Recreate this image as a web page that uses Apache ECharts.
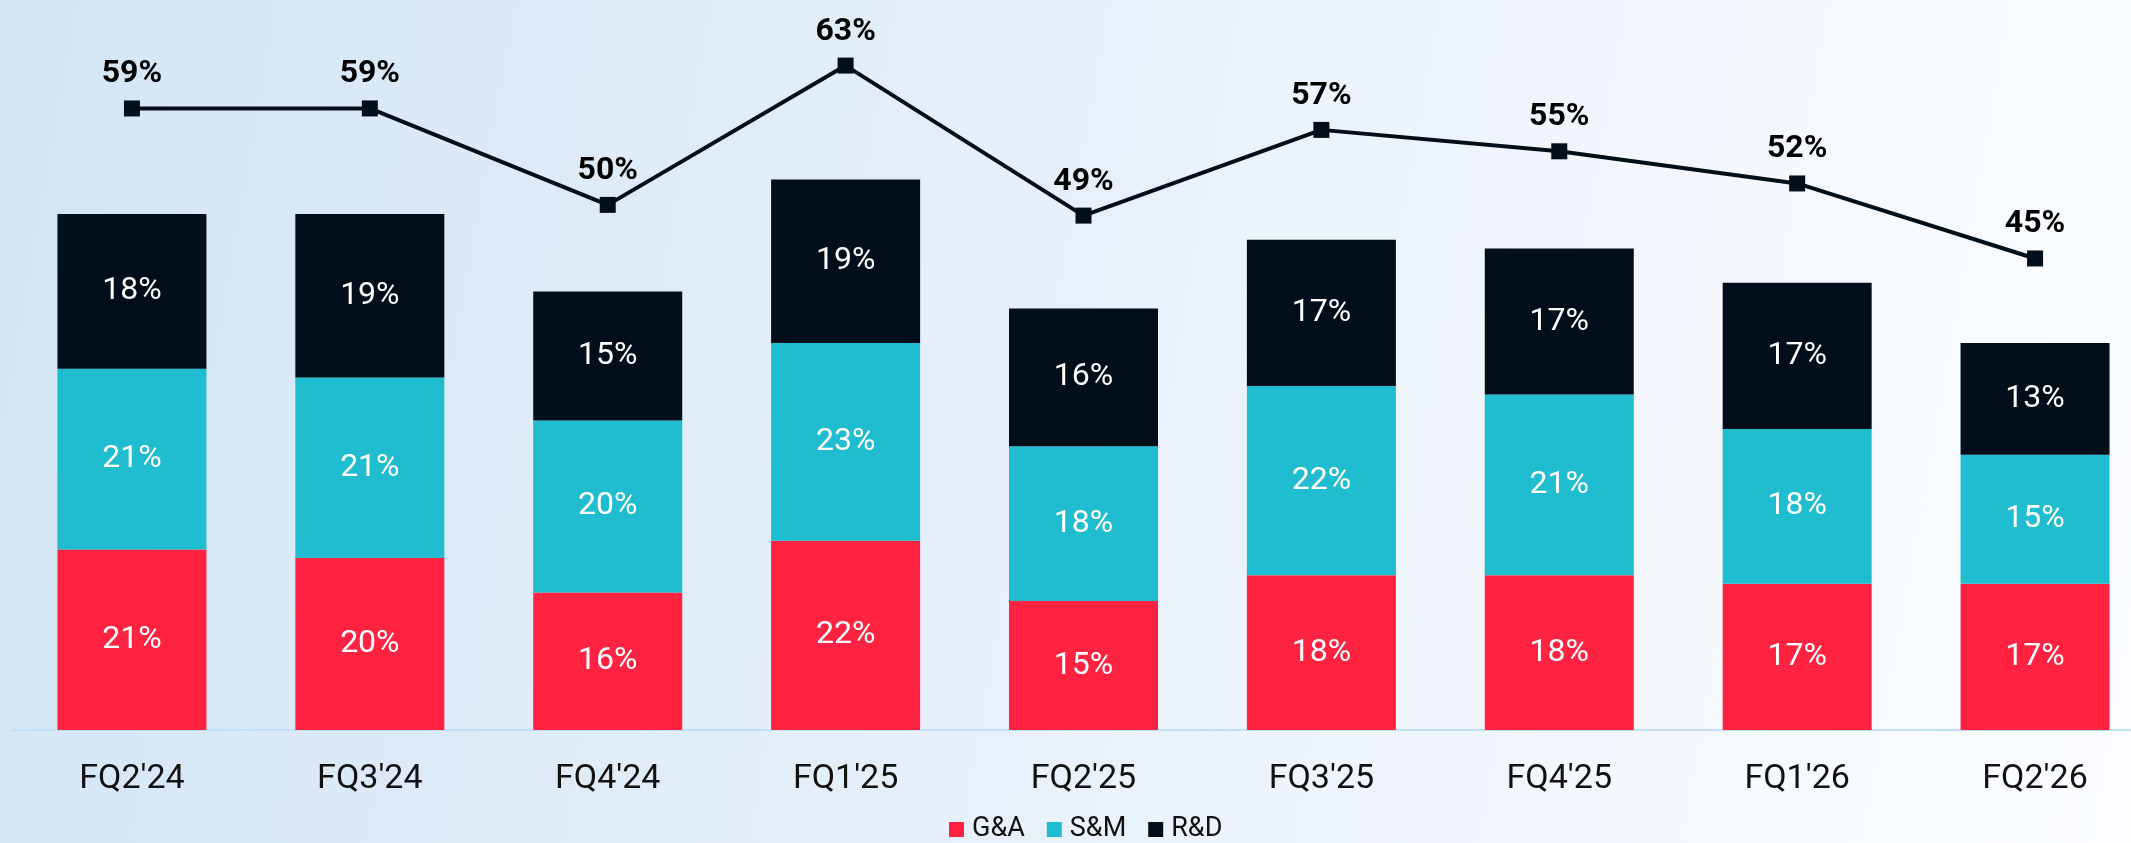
<!DOCTYPE html>
<html>
<head>
<meta charset="utf-8">
<script src="https://cdn.jsdelivr.net/npm/echarts@6/dist/echarts.min.js"></script>
<style>
  html, body { margin: 0; padding: 0; }
  #chart {
    width: 2131px; height: 843px;
    background: linear-gradient(100deg, #d3e5f5 0%, #e3eef9 40%, #f3f7fd 75%, #fbfdff 100%);
  }
</style>
</head>
<body>
<div id="chart"></div>
<script>
var quarters = ["FQ2'24", "FQ3'24", "FQ4'24", "FQ1'25", "FQ2'25", "FQ3'25", "FQ4'25", "FQ1'26", "FQ2'26"];
var gaValues = [21, 20, 16, 22, 15, 18, 18, 17, 17];
var smValues = [21, 21, 20, 23, 18, 22, 21, 18, 15];
var rdValues = [18, 19, 15, 19, 16, 17, 17, 17, 13];
var totalValues = [59, 59, 50, 63, 49, 57, 55, 52, 45];

var myChart = echarts.init(document.getElementById('chart'));

function barSeries(name, data, color) {
    return {
        name: name,
        type: 'bar',
        stack: 'opex',
        yAxisIndex: 0,
        barWidth: 149,
        data: data,
        itemStyle: { color: color },
        label: {
            show: true,
            position: 'inside',
            color: '#ffffff',
            fontFamily: 'Roboto',
            fontSize: 32,
            formatter: '{c}%'
        }
    };
}

var option = {
    animation: false,
    textStyle: { fontFamily: 'Roboto' },
    legend: {
        left: 949,
        top: 816,
        padding: 0,
        icon: 'rect',
        itemWidth: 15,
        itemHeight: 15,
        itemGap: 22,
        textStyle: { fontSize: 27, color: '#111', fontFamily: 'Roboto', padding: [0, 0, 0, 3] },
        data: ['G&A', 'S&M', 'R&D']
    },
    grid: {
        left: 13,
        top: 42,
        bottom: 113,
        width: 2141,
        outerBoundsMode: 'none',
        containLabel: false
    },
    xAxis: {
        type: 'category',
        data: quarters,
        axisLine: { show: true, lineStyle: { color: '#bfe0f7', width: 2 } },
        axisTick: { show: false },
        axisLabel: { fontSize: 34, color: '#111', margin: 32, fontFamily: 'Roboto' }
    },
    yAxis: [
        { type: 'value', min: 0, max: 80, show: false, splitLine: { show: false } },
        { type: 'value', min: 1, max: 65.2, show: false, splitLine: { show: false } }
    ],
    series: [
        barSeries('G&A', gaValues, '#ff2341'),
        barSeries('S&M', smValues, '#1fbdcf'),
        barSeries('R&D', rdValues, '#020f1b'),
        {
            name: 'Total',
            type: 'line',
            yAxisIndex: 1,
            data: totalValues,
            symbol: 'rect',
            symbolSize: 16,
            lineStyle: { color: '#020f1b', width: 4 },
            itemStyle: { color: '#020f1b' },
            label: {
                show: true,
                position: 'top',
                distance: 10,
                color: '#000',
                fontFamily: 'Roboto',
                fontWeight: 'bold',
                fontSize: 32,
                formatter: '{c}%'
            }
        }
    ]
};

myChart.setOption(option);
</script>
</body>
</html>
